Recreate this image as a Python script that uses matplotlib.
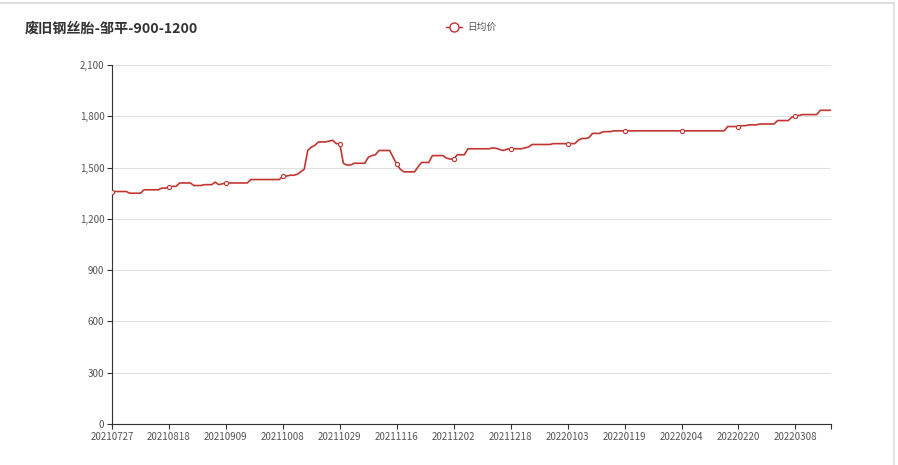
import matplotlib
matplotlib.use('Agg')
import matplotlib.pyplot as plt
from matplotlib.lines import Line2D
import pandas as pd

plt.rcParams['font.family'] = ['Noto Sans CJK SC', 'DejaVu Sans']

title = '废旧钢丝胎-邹平-900-1200'
series_name = '日均价'

# trading days up to end of October, then daily quotes
dates = ['20210727', '20210728', '20210729', '20210730', '20210802', '20210803',
         '20210804', '20210805', '20210806', '20210809', '20210810', '20210811',
         '20210812', '20210813', '20210816', '20210817', '20210818', '20210819',
         '20210820', '20210823', '20210824', '20210825', '20210826', '20210827',
         '20210830', '20210831', '20210901', '20210902', '20210903', '20210906',
         '20210907', '20210908', '20210909', '20210910', '20210913', '20210914',
         '20210915', '20210916', '20210917', '20210918', '20210922', '20210923',
         '20210924', '20210926', '20210927', '20210928', '20210929', '20210930',
         '20211008', '20211009', '20211011', '20211012', '20211013', '20211014',
         '20211015', '20211018', '20211019', '20211020', '20211021', '20211022',
         '20211025', '20211026', '20211027', '20211028', '20211029']
dates += [d.strftime('%Y%m%d') for d in pd.date_range('2021-11-01', '2022-03-18')]

prices = [1360, 1360, 1360, 1360, 1360, 1350, 1350, 1350, 1350, 1370,
          1370, 1370, 1370, 1370, 1380, 1380, 1385, 1390, 1390, 1410,
          1410, 1410, 1410, 1395, 1395, 1395, 1400, 1400, 1400, 1415,
          1400, 1405, 1410, 1410, 1410, 1410, 1410, 1410, 1410, 1430,
          1430, 1430, 1430, 1430, 1430, 1430, 1430, 1430, 1450, 1450,
          1455, 1455, 1460, 1475, 1490, 1600, 1620, 1630, 1650, 1650,
          1650, 1655, 1660, 1640, 1640, 1525, 1515, 1515, 1525, 1525,
          1525, 1525, 1560, 1570, 1575, 1600, 1600, 1600, 1600, 1560,
          1520, 1490, 1475, 1475, 1475, 1475, 1505, 1530, 1530, 1530,
          1570, 1570, 1570, 1570, 1555, 1550, 1550, 1575, 1575, 1575,
          1610, 1610, 1610, 1610, 1610, 1610, 1610, 1615, 1612, 1605,
          1600, 1608, 1610, 1610, 1610, 1610, 1615, 1620, 1635, 1635,
          1635, 1635, 1635, 1635, 1640, 1640, 1640, 1640, 1640, 1640,
          1640, 1660, 1670, 1670, 1675, 1700, 1700, 1700, 1710, 1710,
          1710, 1715, 1715, 1715, 1715, 1715, 1715, 1715, 1715, 1715,
          1715, 1715, 1715, 1715, 1715, 1715, 1715, 1715, 1715, 1715,
          1715, 1715, 1715, 1715, 1715, 1715, 1715, 1715, 1715, 1715,
          1715, 1715, 1715, 1740, 1740, 1740, 1740, 1745, 1745, 1750,
          1750, 1750, 1755, 1755, 1755, 1755, 1755, 1775, 1775, 1775,
          1775, 1795, 1800, 1805, 1810, 1810, 1810, 1810, 1810, 1835,
          1835, 1835, 1835]

y_ticks = [0, 300, 600, 900, 1200, 1500, 1800, 2100]
label_step = 16

red = '#c23531'
axis_col = '#333333'
text_col = '#555555'

fig = plt.figure(figsize=(8.98, 4.65), dpi=100)
ax = fig.add_axes([112 / 898, 41 / 465, 719 / 898, 359 / 465])

x = list(range(len(prices)))
ax.plot(x, prices, color=red, lw=1.2, marker='o', markersize=3,
        markerfacecolor='white', markeredgecolor=red, markeredgewidth=0.8,
        markevery=label_step, zorder=3)

ax.set_xlim(0, len(prices) - 1)
ax.set_ylim(0, 2100)
ax.set_yticks(y_ticks)
ax.set_yticklabels([f'{v:,}' for v in y_ticks])
ax.set_xticks(x[::label_step])
ax.set_xticklabels(dates[::label_step])
ax.set_xticks([len(prices) - 1], minor=True)

ax.grid(axis='y', color='#e0e0e0', lw=0.8)
ax.set_axisbelow(True)
for side in ['top', 'right']:
    ax.spines[side].set_visible(False)
for side in ['left', 'bottom']:
    ax.spines[side].set_color(axis_col)
    ax.spines[side].set_linewidth(0.8)
ax.tick_params(axis='both', which='both', length=3.5, width=0.8, color=axis_col,
               labelcolor=text_col, labelsize=7, pad=2)

fig.text(25 / 898, 1 - 29 / 465, title, fontsize=10.2, fontweight='bold',
         color='#333333', va='center', ha='left')

handle = Line2D([], [], color=red, lw=1, marker='o', markersize=6.5,
                markerfacecolor='white', markeredgecolor=red)
fig.legend(handles=[handle], labels=[series_name], loc='center',
           bbox_to_anchor=(471 / 898, 1 - 27 / 465), frameon=False,
           fontsize=7, labelcolor=text_col, handlelength=1.7, handletextpad=0.5)

# card border
fig.add_artist(Line2D([0, 894 / 898], [1 - 3 / 465, 1 - 3 / 465], color='#dddddd', lw=1.5))
fig.add_artist(Line2D([894 / 898, 894 / 898], [0, 1 - 3 / 465], color='#dddddd', lw=1.2))

fig.savefig('out.png', dpi=100, facecolor='white')
